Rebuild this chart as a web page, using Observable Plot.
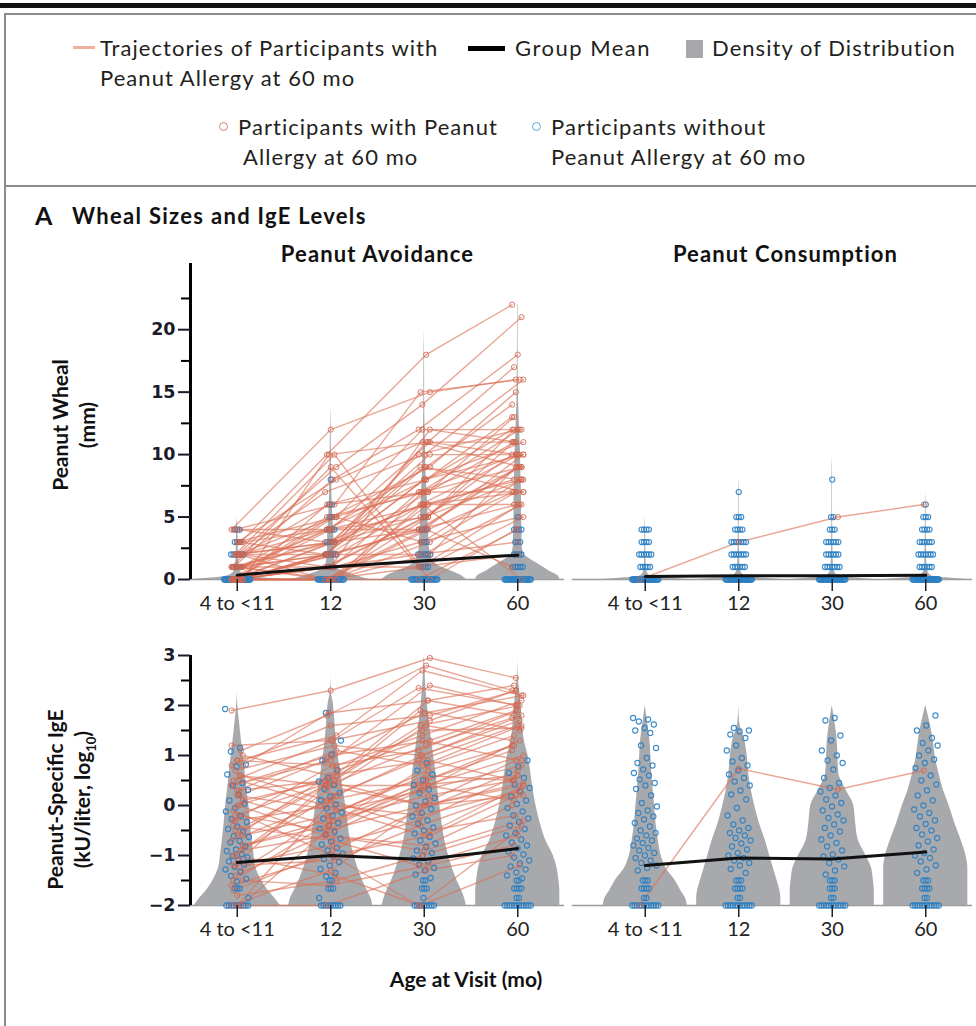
<!DOCTYPE html>
<html><head><meta charset="utf-8">
<script src="https://cdn.jsdelivr.net/npm/d3@7"></script>
<script src="https://cdn.jsdelivr.net/npm/@observablehq/plot@0.6"></script>
<style>
body{margin:0;width:976px;height:1026px;position:relative;overflow:hidden;background:#fff;font-family:Lato,"Open Sans",sans-serif;color:#231f20}
.abs{position:absolute}
.lg{position:absolute;font-size:22px;line-height:30px;white-space:nowrap;color:#231f20;letter-spacing:1.05px}
.ttl{position:absolute;font-weight:bold;white-space:nowrap;color:#111}
.ytitle{position:absolute;width:300px;text-align:center;font-weight:bold;font-size:21px;line-height:27px;transform:rotate(-90deg);transform-origin:50% 50%;white-space:nowrap;color:#111}
</style></head><body>
<div class="abs" style="left:0;top:3px;width:976px;height:5px;background:#111"></div>
<div class="abs" style="left:4px;top:13px;width:990px;height:170px;border:2px solid #8c8c8c"></div>
<div class="abs" style="left:4px;top:185px;width:990px;height:900px;border:2px solid #8c8c8c"></div>

<div class="abs" style="left:73px;top:46px;width:22px;height:3px;background:#f1b09f"></div>
<div class="lg" style="left:100px;top:33px">Trajectories of Participants with<br>Peanut Allergy at 60 mo</div>
<div class="abs" style="left:468px;top:46px;width:37px;height:5px;background:#000"></div>
<div class="lg" style="left:515px;top:33px;letter-spacing:1.5px">Group Mean</div>
<div class="abs" style="left:686px;top:40px;width:17px;height:18px;background:#a6a8ab"></div>
<div class="lg" style="left:712px;top:33px">Density of Distribution</div>
<div class="abs" style="left:219px;top:122px;width:7px;height:7px;border:1.5px solid #d9826f;border-radius:50%"></div>
<div class="lg" style="left:238px;top:112px">Participants with Peanut</div>
<div class="lg" style="left:243px;top:142px">Allergy at 60 mo</div>
<div class="abs" style="left:532px;top:122px;width:7px;height:7px;border:1.5px solid #5aa9dc;border-radius:50%"></div>
<div class="lg" style="left:551px;top:112px">Participants without<br>Peanut Allergy at 60 mo</div>

<div class="ttl" style="left:35px;top:200px;font-size:25px">A</div>
<div class="ttl" style="left:72px;top:202px;font-size:22px;letter-spacing:1.3px">Wheal Sizes and IgE Levels</div>

<div class="ytitle" style="left:-77px;top:398px">Peanut Wheal<br>(mm)</div>
<div class="ytitle" style="left:-77px;top:768px">Peanut-Specific IgE<br>(kU/liter, log<sub style="font-size:13px">10</sub>)</div>

<div id="row1" class="abs" style="left:0;top:232px"></div>
<div id="row2" class="abs" style="left:0;top:640px"></div>
<div class="ttl" style="left:266px;width:400px;text-align:center;top:966px;font-size:21px">Age at Visit (mo)</div>

<script>
const visits = ["4 to <11", "12", "30", "60"];
const groups = ["Peanut Avoidance", "Peanut Consumption"];

// ---------- Wheal (mm) ----------
const whealTrajAvoid = [
[4,12,15,16],[3,10,18,22],[2,9,14,21],[1,8,12,18],[0,10,11,17],[2,7,10,16],[4,6,15,16],[0,5,9,15],
[1,4,8,13],[3,5,12,12],[0,3,10,12],[2,6,7,11],[0,2,8,11],[1,3,6,10],[0,4,11,10],[2,1,5,10],
[0,0,7,9],[1,2,4,9],[3,4,6,8],[0,1,5,8],[2,3,9,8],[0,0,3,7],[1,5,7,7],[0,2,2,6],[4,4,4,6],
[0,0,6,6],[2,0,1,5],[0,1,3,5],[1,3,10,10],[0,6,8,12],[3,8,11,9],[0,0,0,4],[2,2,7,13],[1,0,4,10],
[0,3,5,9],[0,1,12,11],[2,4,9,14],[0,2,6,8],[1,1,2,3],[0,0,4,7],[3,2,8,10],[0,5,7,12],[0,0,2,9],
[1,2,11,11],[2,5,3,8],[0,1,1,2],[0,0,5,11],[4,3,6,7],[2,10,1,6],[1,9,0,4],[0,2,4,1],[1,0,6,0],
[0,1,7,10],[1,4,5,12],[0,2,9,7],[2,3,4,9]
];
const whealTrajConsume = [[0,3,5,6]];
const whealMeanAvoid = [0.35, 1.0, 1.5, 1.95];
const whealMeanConsume = [0.25, 0.3, 0.3, 0.35];
const whealBlueLevels = [0,1,2,3,4,5,6,7,8];
const whealBlueAvoid = [
[30,4,6,3,3,0,0,0,0],
[22,3,5,4,4,2,2,0,1],
[20,4,6,3,3,1,0,0,0],
[24,5,4,3,4,1,0,0,0]];
const whealBlueConsume = [
[30,5,6,4,4,0,0,0,0],
[30,6,7,7,4,3,0,1,0],
[30,7,6,6,3,2,0,0,1],
[30,6,7,6,4,3,1,0,0]];
const whealDensLevels = [0,0.3,0.7,1,1.5,2,2.5,3,4,5,6,7,8,10,12,14,16,18,20,22];
const whealDensAvoid = [
[0.48,0.1,0.03,0.02,0.015,0.012,0.01,0.01,0.006,0,0,0,0,0,0,0,0,0,0,0],
[0.41,0.28,0.12,0.06,0.045,0.04,0.035,0.035,0.03,0.022,0.016,0.012,0.01,0.007,0.004,0,0,0,0,0],
[0.45,0.4,0.28,0.18,0.09,0.065,0.055,0.05,0.045,0.04,0.035,0.03,0.022,0.014,0.008,0.005,0.004,0.003,0,0],
[0.45,0.43,0.33,0.27,0.16,0.07,0.05,0.045,0.045,0.04,0.04,0.04,0.035,0.03,0.02,0.01,0.006,0.004,0.003,0.003]];
const whealDensConsume = [
[0.46,0.05,0.015,0.01,0.008,0.006,0.006,0.005,0.004,0,0,0,0,0,0,0,0,0,0,0],
[0.45,0.06,0.02,0.012,0.01,0.008,0.007,0.006,0.005,0.004,0.003,0.003,0,0,0,0,0,0,0,0],
[0.45,0.06,0.02,0.012,0.01,0.008,0.007,0.006,0.005,0.004,0.003,0.003,0.003,0,0,0,0,0,0,0],
[0.45,0.06,0.02,0.012,0.01,0.008,0.007,0.006,0.005,0.004,0.003,0,0,0,0,0,0,0,0,0]];

// ---------- IgE (log10 kU/liter) ----------
const igeTrajAvoid = [
[1.9,2.3,2.95,2.55],[1.1,1.8,2.8,2.3],[0.9,1.4,2.7,2.2],[0.5,1.3,2.35,2.0],[0.8,1.85,2.1,2.4],
[0.2,0.9,1.85,2.2],[-0.2,0.5,1.6,2.0],[0.4,1.0,1.3,1.9],[-0.5,0.4,1.2,1.75],[0.0,0.6,1.5,1.55],
[-1.0,0.2,0.9,1.6],[-0.6,-0.2,0.7,1.2],[0.6,0.4,0.4,1.0],[-1.4,-0.5,0.3,1.3],[-2,-1.3,0.1,0.9],
[-2,-0.5,0.5,1.1],[-2,0.2,1.0,1.8],[-1.2,-0.8,-0.3,0.6],[-0.8,-0.3,0.2,0.5],[0.3,0.5,0.0,0.4],
[-0.3,0.0,-0.2,0.3],[-1.6,-1.0,-0.6,0.2],[-0.9,-0.6,-0.8,0.0],[-1.8,-1.5,-1.0,-0.4],[-0.4,-0.7,-1.2,-0.6],
[0.1,-0.4,0.8,1.4],[-1.1,0.4,0.0,0.45],[0.7,1.2,1.0,1.7],[-0.7,0.1,-0.5,-0.2],[-1.3,-0.2,0.6,0.5],
[0.9,0.8,1.4,2.1],[-0.1,-1.0,-2,-0.5],[-1.5,-1.6,-1.2,-0.8],[0.5,0.0,-0.6,0.4],[-0.5,0.5,1.9,1.5],
[1.2,1.3,1.7,2.3],[-2,-2,-1.3,-1.0],[0.2,-0.1,0.3,0.8],[-0.3,0.8,1.1,1.9],[-0.8,-0.4,0.4,0.1],
[0.0,-0.6,-0.9,-0.3],[-1.2,-1.1,-0.4,0.3],[0.4,0.9,2.4,2.0],[0.6,0.1,0.5,1.2],[-0.6,0.7,1.3,0.9],
[-1.7,-0.9,-0.1,0.7],[1.0,0.6,0.9,0.5],[-0.2,-0.5,0.0,0.2],[-1.0,-1.4,-2,-1.2],[0.8,1.6,1.8,2.3],
[-0.9,0.3,1.6,1.3],[0.3,1.1,0.8,1.6],[-1.5,-0.3,0.4,0.6],[0.1,0.5,2.1,1.8]
];
const igeTrajConsume = [[-2,0.74,0.32,0.7]];
const igeMeanAvoid = [-1.14, -1.0, -1.08, -0.86];
const igeMeanConsume = [-1.2, -1.05, -1.07, -0.93];
const igeBlueAvoid = [
[1.93,1.15,1.08,0.82,0.78,0.62,0.45,0.4,0.31,0.22,0.1,0.04,-0.05,-0.12,-0.21,-0.27,-0.33,-0.42,-0.47,-0.52,-0.61,-0.63,-0.71,-0.74,-0.82,-0.88,-0.91,-0.97,-1.01,-1.04,-1.09,-1.12,-1.18,-1.23,-1.28,-1.33,-1.41,-1.47,-1.52,-1.66,-1.66,-1.66,-1.85],
[1.85,1.3,1.02,0.9,0.71,0.55,0.48,0.41,0.33,0.25,0.18,0.11,0.02,-0.06,-0.14,-0.2,-0.26,-0.35,-0.4,-0.46,-0.53,-0.58,-0.66,-0.72,-0.78,-0.85,-0.9,-0.96,-1.02,-1.07,-1.13,-1.2,-1.27,-1.35,-1.42,-1.5,-1.5,-1.66,-1.66,-1.66,-1.85],
[0.85,0.7,0.62,0.5,0.41,0.32,0.25,0.15,0.08,0.0,-0.07,-0.15,-0.22,-0.3,-0.36,-0.44,-0.5,-0.56,-0.63,-0.7,-0.76,-0.83,-0.9,-0.95,-1.0,-1.06,-1.12,-1.18,-1.25,-1.3,-1.38,-1.45,-1.5,-1.5,-1.66,-1.66,-1.66,-1.85],
[0.9,0.78,0.65,0.55,0.42,0.35,0.28,0.18,0.1,0.03,-0.05,-0.12,-0.2,-0.26,-0.33,-0.4,-0.47,-0.55,-0.6,-0.68,-0.74,-0.8,-0.86,-0.92,-0.98,-1.04,-1.1,-1.16,-1.22,-1.28,-1.34,-1.4,-1.46,-1.5,-1.5,-1.66,-1.66,-1.66,-1.66,-1.85,-1.85]];
const igeBlueConsume = [
[1.75,1.72,1.68,1.62,1.55,1.5,1.45,1.2,1.15,0.95,0.85,0.8,0.72,0.65,0.6,0.52,0.45,0.4,0.33,0.2,0.05,-0.02,-0.1,-0.15,-0.22,-0.28,-0.35,-0.42,-0.5,-0.55,-0.6,-0.66,-0.7,-0.75,-0.8,-0.85,-0.9,-0.95,-1.0,-1.05,-1.1,-1.15,-1.2,-1.25,-1.3,-1.5,-1.5,-1.5,-1.66,-1.66,-1.66,-1.66,-1.85,-1.85],
[1.55,1.5,1.48,1.42,1.35,1.2,1.1,0.95,0.88,0.8,0.7,0.62,0.55,0.48,0.4,0.3,0.22,0.12,-0.05,-0.2,-0.3,-0.38,-0.45,-0.5,-0.55,-0.6,-0.65,-0.7,-0.76,-0.82,-0.88,-0.95,-1.0,-1.05,-1.1,-1.15,-1.2,-1.27,-1.35,-1.5,-1.5,-1.5,-1.66,-1.66,-1.66,-1.66,-1.85,-1.85],
[1.75,1.7,1.4,1.3,1.1,1.0,0.9,0.85,0.72,0.55,0.45,0.35,0.28,0.2,0.12,0.05,-0.02,-0.1,-0.18,-0.25,-0.3,-0.38,-0.45,-0.52,-0.6,-0.68,-0.75,-0.82,-0.9,-0.98,-1.02,-1.08,-1.15,-1.22,-1.3,-1.38,-1.5,-1.5,-1.5,-1.66,-1.66,-1.66,-1.85,-1.85],
[1.8,1.6,1.5,1.35,1.25,1.2,1.1,1.0,0.92,0.85,0.75,0.6,0.5,0.42,0.3,0.2,0.1,0.0,-0.08,-0.15,-0.22,-0.3,-0.37,-0.45,-0.5,-0.58,-0.65,-0.72,-0.8,-0.88,-0.95,-1.0,-1.05,-1.12,-1.2,-1.28,-1.35,-1.5,-1.5,-1.5,-1.66,-1.66,-1.66,-1.66,-1.85,-1.85]];
const igeFloorAvoid = [10, 9, 9, 12];
const igeFloorConsume = [12, 12, 12, 12];
const igeDensLevels = [-2,-1.85,-1.7,-1.5,-1.25,-1,-0.7,-0.35,0,0.3,0.65,1,1.3,1.65,2,2.3,2.6,2.95];
const igeDensAvoid = [
[0.46,0.4,0.33,0.26,0.2,0.18,0.16,0.14,0.125,0.105,0.085,0.065,0.045,0.025,0.006,0,0,0],
[0.45,0.43,0.39,0.34,0.29,0.25,0.21,0.185,0.16,0.135,0.105,0.08,0.06,0.045,0.03,0.005,0,0],
[0.45,0.43,0.4,0.35,0.3,0.26,0.22,0.19,0.167,0.145,0.125,0.1,0.08,0.055,0.035,0.02,0.01,0.003],
[0.45,0.45,0.45,0.44,0.42,0.38,0.3,0.24,0.195,0.165,0.14,0.11,0.07,0.05,0.035,0.02,0.004,0]];
const igeDensConsume = [
[0.45,0.43,0.38,0.32,0.22,0.17,0.14,0.115,0.1,0.085,0.07,0.06,0.05,0.025,0,0,0,0],
[0.45,0.45,0.44,0.41,0.37,0.33,0.285,0.22,0.17,0.135,0.105,0.09,0.065,0.01,0,0,0,0],
[0.45,0.45,0.45,0.44,0.42,0.36,0.28,0.25,0.23,0.15,0.07,0.06,0.053,0.03,0,0,0,0],
[0.45,0.45,0.45,0.45,0.45,0.43,0.38,0.31,0.25,0.19,0.14,0.1,0.08,0.045,0,0,0,0]];

// ---------- builders (layout only) ----------
function violinRows(group, levels, dens) {
  const rows = [];
  dens.forEach((ws, v) => levels.forEach((lv, i) => {
    if (ws[i] > 0 || (i > 0 && ws[i-1] > 0)) rows.push({group, col: group + v, y: lv, x1: v - ws[i], x2: v + ws[i]});
  }));
  return rows;
}
function spreadRow(n, k) {
  if (n <= 1) return 0;
  const s = Math.min(0.026, 0.28 / (n - 1));
  return (k - (n - 1) / 2) * s;
}
function blueFromCounts(group, levels, counts) {
  const rows = [];
  counts.forEach((cs, v) => cs.forEach((n, i) => {
    for (let k = 0; k < n; k++) rows.push({group, x: v + spreadRow(n, k), y: levels[i]});
  }));
  return rows;
}
function blueFromValues(group, cols, floors) {
  const rows = [];
  cols.forEach((vals, v) => {
    const all = vals.concat(Array(floors[v]).fill(-2));
    const cnt = d3.rollup(all, g => g.length, d => d);
    const seen = new Map();
    all.forEach((val, idx) => {
      const n = cnt.get(val);
      let off;
      if (n > 1) { const k = seen.get(val) || 0; seen.set(val, k + 1); off = spreadRow(n, k); }
      else off = (((idx * 0.618034 + v * 0.3) % 1) - 0.5) * 0.26;
      rows.push({group, x: v + off, y: val});
    });
  });
  return rows;
}
function trajRows(group, trajs) {
  const rows = [];
  trajs.forEach((t, id) => t.forEach((val, v) => {
    if (val != null) rows.push({group, id: group + id, x: v + ((((id * 5 + v * 3) % 7) - 3) * 0.02), y: val});
  }));
  return rows;
}
function meanRows(group, means) { return means.map((m, v) => ({group, x: v, y: m})); }
const fmtY = d => d < 0 ? "\u2212" + Math.abs(d) : String(d);

function buildRow(cfg) {
  const [y0, y1] = cfg.yDomain;
  return Plot.plot({
    width: 976, height: cfg.height,
    marginLeft: 190, marginRight: 4, marginTop: cfg.marginTop, marginBottom: 45,
    x: {domain: [-0.5, 3.5], axis: null},
    y: {domain: cfg.yDomain, axis: null},
    fx: {domain: groups, paddingInner: 0.0833, paddingOuter: 0, round: false, axis: null, label: null},
    style: {fontFamily: "Lato, sans-serif", background: "transparent", overflow: "visible"},
    marks: [
      Plot.ruleY(groups, {fx: d => d, y: y0, x1: d => d === groups[0] ? -0.5 : -0.78, x2: 3.5, stroke: "#9c9c9c", strokeWidth: 1.6}),
      Plot.areaX(cfg.violins, {fx: "group", y: "y", x1: "x1", x2: "x2", z: "col", fill: "#a7a9ac", curve: "monotone-y"}),
      Plot.line(cfg.traj, {fx: "group", x: "x", y: "y", z: "id", stroke: "#dc6f56", strokeOpacity: 0.62, strokeWidth: 1.4}),
      Plot.dot(cfg.blue, {fx: "group", x: "x", y: "y", r: 2.6, stroke: "#2a7fc4", strokeWidth: 1.1, strokeOpacity: 0.9, fill: "none"}),
      Plot.dot(cfg.traj, {fx: "group", x: "x", y: "y", r: 2.6, stroke: "#d0654f", strokeWidth: 1, strokeOpacity: 0.85, fill: "none"}),
      Plot.line(cfg.means, {fx: "group", x: "x", y: "y", stroke: "#111", strokeWidth: 3}),
      Plot.ruleX([groups[0]], {fx: d => d, x: -0.5, y1: y0, y2: y1, dx: 0, stroke: "#000", strokeWidth: 3}),
      Plot.axisY({ticks: cfg.major, tickFormat: fmtY, tickSize: 12, tickPadding: 3, strokeWidth: 2, fontSize: 17.5, fontWeight: "bold", fontFamily: "DejaVu Sans, sans-serif", color: "#1b1b2b", label: null}),
      Plot.axisY({ticks: cfg.minor, tickSize: 9, strokeWidth: 2, tickFormat: () => "", label: null, color: "#000"}),
      Plot.axisX({ticks: [0, 1, 2, 3], tickFormat: i => visits[i], tickSize: 12, tickPadding: 4, strokeWidth: 1.5, fontSize: 20, fontFamily: "Lato, sans-serif", color: "#222", label: null}),
      ...(cfg.titles ? [Plot.text(groups, {fx: d => d, text: d => d, frameAnchor: "top", dy: -17, fontSize: 22, fontWeight: "bold", fill: "#111", className: "facet-title"})] : [])
    ]
  });
}

const row1 = buildRow({
  height: 392, marginTop: 31, yDomain: [0, 25.3], titles: true,
  major: [0, 5, 10, 15, 20], minor: [2.5, 7.5, 12.5, 17.5, 22.5],
  violins: violinRows(groups[0], whealDensLevels, whealDensAvoid).concat(violinRows(groups[1], whealDensLevels, whealDensConsume)),
  blue: blueFromCounts(groups[0], whealBlueLevels, whealBlueAvoid).concat(blueFromCounts(groups[1], whealBlueLevels, whealBlueConsume)),
  traj: trajRows(groups[0], whealTrajAvoid).concat(trajRows(groups[1], whealTrajConsume)),
  means: meanRows(groups[0], whealMeanAvoid).concat(meanRows(groups[1], whealMeanConsume))
});
document.getElementById("row1").appendChild(row1);
d3.select(row1).selectAll(".facet-title text").style("letter-spacing", "1.1px");

const row2 = buildRow({
  height: 310, marginTop: 15, yDomain: [-2, 3], titles: false,
  major: [-2, -1, 0, 1, 2, 3], minor: [-1.5, -0.5, 0.5, 1.5, 2.5],
  violins: violinRows(groups[0], igeDensLevels, igeDensAvoid).concat(violinRows(groups[1], igeDensLevels, igeDensConsume)),
  blue: blueFromValues(groups[0], igeBlueAvoid, igeFloorAvoid).concat(blueFromValues(groups[1], igeBlueConsume, igeFloorConsume)),
  traj: trajRows(groups[0], igeTrajAvoid).concat(trajRows(groups[1], igeTrajConsume)),
  means: meanRows(groups[0], igeMeanAvoid).concat(meanRows(groups[1], igeMeanConsume))
});
document.getElementById("row2").appendChild(row2);
</script>
</body></html>
